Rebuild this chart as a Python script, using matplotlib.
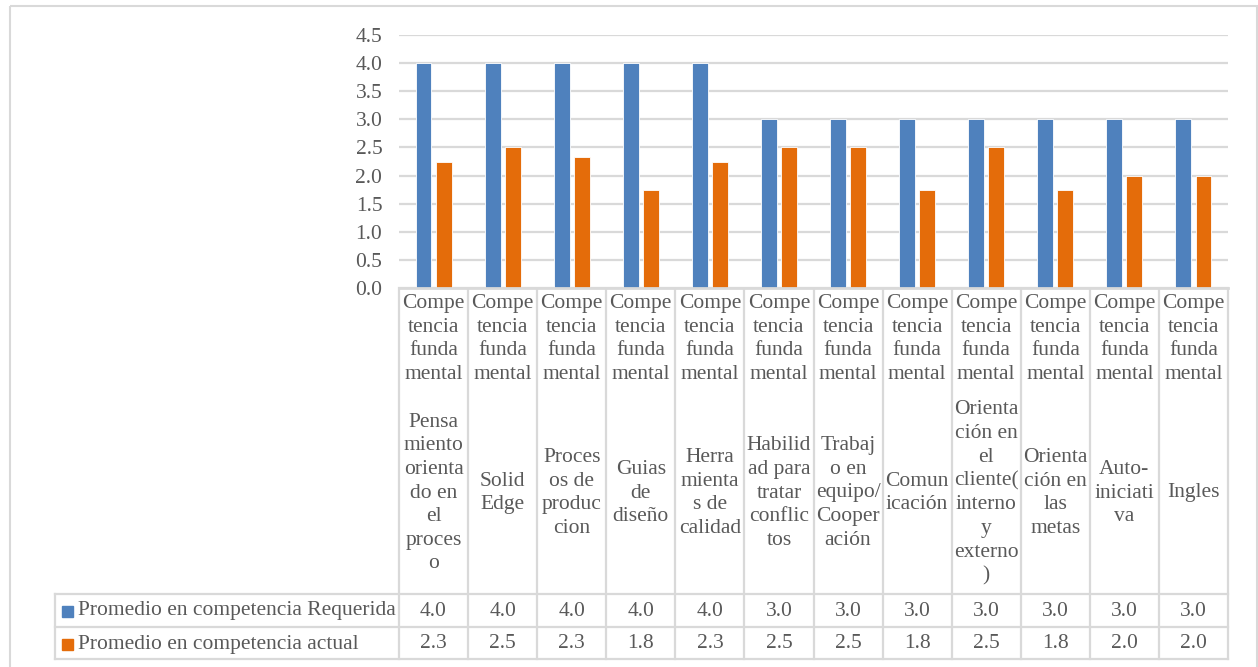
import matplotlib.pyplot as plt
from matplotlib.patches import Rectangle
from matplotlib.transforms import blended_transform_factory
from decimal import Decimal, ROUND_HALF_UP
import numpy as np

plt.rcParams['font.family'] = ['Liberation Serif', 'DejaVu Serif']

# data
grupo = "Compe\ntencia\nfunda\nmental"
competencias = [
    "Pensa\nmiento\norienta\ndo en\nel\nproces\no",
    "Solid\nEdge",
    "Proces\nos de\nproduc\ncion",
    "Guias\nde\ndiseño",
    "Herra\nmienta\ns de\ncalidad",
    "Habilid\nad para\ntratar\nconflic\ntos",
    "Trabaj\no en\nequipo/\nCooper\nación",
    "Comun\nicación",
    "Orienta\nción en\nel\ncliente(\ninterno\ny\nexterno\n)",
    "Orienta\nción en\nlas\nmetas",
    "Auto-\niniciati\nva",
    "Ingles",
]
requerida = [4, 4, 4, 4, 4, 3, 3, 3, 3, 3, 3, 3]
actual = [2.25, 2.5, 2.333, 1.75, 2.25, 2.5, 2.5, 1.75, 2.5, 1.75, 2.0, 2.0]
series_names = ["Promedio en competencia Requerida", "Promedio en competencia actual"]
yticks = [0, 0.5, 1, 1.5, 2, 2.5, 3, 3.5, 4, 4.5]

blue = "#4F81BD"
orange = "#E46C0A"
grid = "#D9D9D9"
txt = "#595959"
fs = 15.5

W, H = 1258, 667
fig = plt.figure(figsize=(W / 100, H / 100), dpi=100)

# overlay in pixel coordinates for frame and table
ov = fig.add_axes([0, 0, 1, 1])
ov.set_xlim(0, W)
ov.set_ylim(H, 0)
ov.axis('off')
ov.add_patch(Rectangle((9.5, 5.5), W - 11, H + 10, fill=False, ec=grid, lw=1.5))

x0, x1, y0, y1 = 399, 1228, 35, 288
ax = fig.add_axes([x0 / W, 1 - y1 / H, (x1 - x0) / W, (y1 - y0) / H])
n = len(competencias)
x = np.arange(n)
bw = 0.23
ax.bar(x - 0.145, requerida, bw, color=blue, ec='white', lw=0.6, zorder=3)
ax.bar(x + 0.145, actual, bw, color=orange, ec='white', lw=0.6, zorder=3)
ax.set_xlim(-0.5, n - 0.5)
ax.set_ylim(0, 4.5)
ax.set_yticks(yticks)
ax.set_yticklabels([f"{v:.1f}" for v in yticks], fontsize=fs, color=txt)
ax.tick_params(axis='y', length=0, pad=12)
ax.set_xticks([])
ax.grid(axis='y', color=grid, lw=1.6, zorder=0)
for s in ax.spines.values():
    s.set_visible(False)
ax.axhline(0, color=grid, lw=2, zorder=4, clip_on=False)

# table with categories and values
tr = blended_transform_factory(ax.transData, ov.transData)
row_top, row_mid, row_bot = 594, 627, 659
for b in np.arange(n + 1) - 0.5:
    ov.plot([b, b], [288, row_bot], color=grid, lw=1.6, transform=tr, clip_on=False)
for yy in (row_top, row_mid, row_bot):
    ov.plot([55, x1], [yy, yy], color=grid, lw=1.6)
ov.plot([55, 55], [row_top, row_bot], color=grid, lw=1.6)

def fmt(v):
    return str(Decimal(str(v)).quantize(Decimal("0.1"), rounding=ROUND_HALF_UP))

for i in range(n):
    ov.text(i, 339, grupo, transform=tr, ha='center', va='center', fontsize=fs,
            color=txt, linespacing=1.33)
    ov.text(i, 493, competencias[i], transform=tr, ha='center', va='center', fontsize=fs,
            color=txt, linespacing=1.33)
    ov.text(i, 611, fmt(requerida[i]), transform=tr, ha='center', va='center',
            fontsize=fs, color=txt)
    ov.text(i, 644, fmt(actual[i]), transform=tr, ha='center', va='center',
            fontsize=fs, color=txt)

for yy, name, c in zip((611, 644), series_names, (blue, orange)):
    ov.add_patch(Rectangle((62, yy - 5.5), 11, 11, color=c))
    ov.text(78, yy, name, ha='left', va='center', fontsize=fs, color=txt)

fig.savefig("out.png", dpi=100)
